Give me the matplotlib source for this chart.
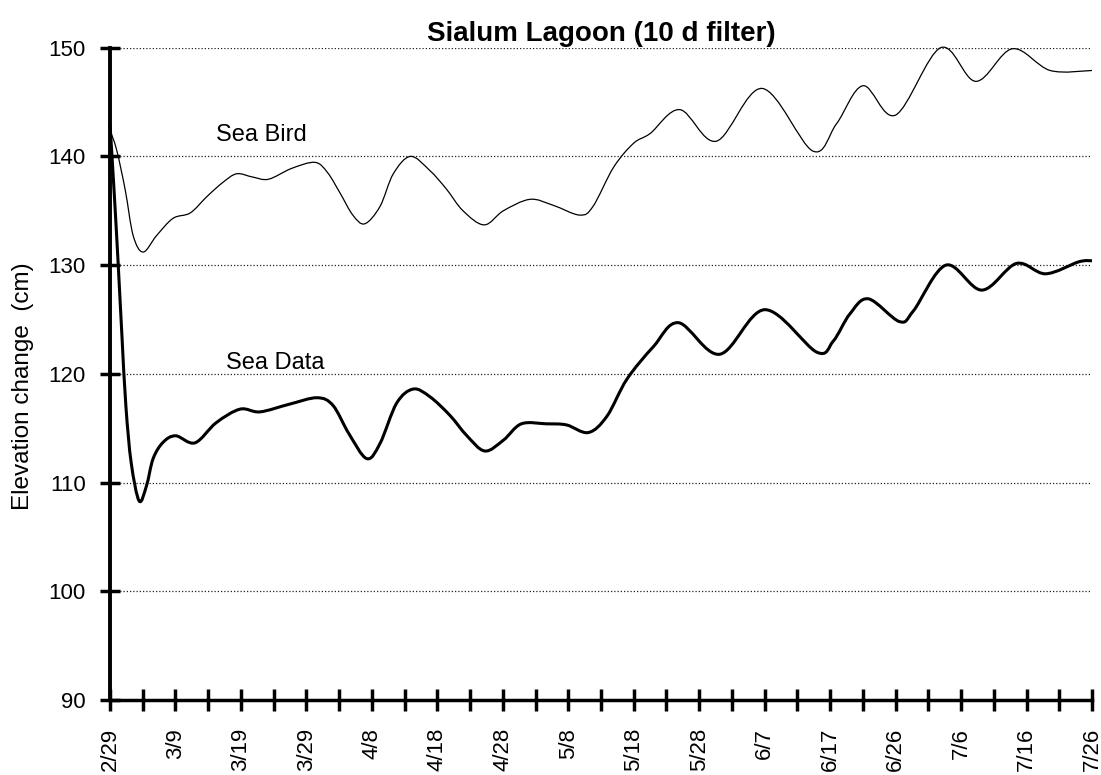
import numpy as np
import matplotlib
matplotlib.use('Agg')
import matplotlib.pyplot as plt
from matplotlib.path import Path
from matplotlib.patches import PathPatch

plt.rcParams['font.family'] = ['Liberation Sans', 'DejaVu Sans']

# x axis in days since 2/29 (148 days, 15 label intervals)
tick_labels = ['2/29', '3/9', '3/19', '3/29', '4/8', '4/18', '4/28', '5/8',
               '5/18', '5/28', '6/7', '6/17', '6/26', '7/6', '7/16', '7/26']
span_days = 148

# Sea Bird (thin line)
bird_day = [0, 1.0, 2.3, 3.5, 5.0, 7.0, 9.5, 12.1, 14.6, 17.0, 19.1, 21.5, 23.9,
            27.4, 30.9, 32.8, 34.7, 36.6, 38.4, 40.7, 42.7, 45.3, 48.2, 50.7,
            53.2, 56.4, 59.3, 63.3, 66.8, 70.8, 72.8, 75.9, 78.9, 81.4,
            85.9, 91.4, 98.3, 105.9, 109.5, 113.5,
            118.4, 125.2, 130.5, 136.0, 141.7, 148]
bird_cm = [142.4, 140.6, 136.9, 132.7, 131.2, 132.7, 134.3, 134.8, 136.3, 137.6,
           138.4, 138.1, 137.9, 138.9, 139.45, 138.5, 136.6, 134.6, 133.8, 135.4,
           138.4, 140.0, 138.7, 137.0, 135.0, 133.7, 135.0, 136.05, 135.5, 134.6,
           135.4, 139.0, 141.2, 142.1, 144.3, 141.4, 146.25,
           140.5, 143.0, 146.5, 143.8, 150.0, 146.9,
           149.9, 147.9, 147.9]

# Sea Data (thick line)
data_day = [0, 0.6, 1.2, 1.8, 2.4, 3.2, 4.4, 5.5, 6.5, 8.0, 9.9, 12.8, 16.0,
            19.6, 22.6, 27.0, 31.2, 33.6, 36.0, 38.7, 40.7, 43.2, 45.7, 48.2,
            51.2, 53.8, 56.5, 59.3, 62.0, 65.8, 68.8, 72.1, 74.9, 77.9, 81.9,
            85.7, 91.9, 98.7, 106.5, 109.0, 111.5, 114.3,
            119.0, 121.1, 126.0, 131.4, 136.6, 141.0, 146.0, 148]
data_cm = [143.0, 137.0, 130.5, 123.5, 117.0, 111.8, 108.3, 109.7, 112.2, 113.7,
           114.3, 113.65, 115.5, 116.75, 116.5, 117.2, 117.8, 117.1, 114.5, 112.2,
           113.6, 117.3, 118.6, 117.9, 116.2, 114.3, 112.9, 113.9, 115.4, 115.4,
           115.3, 114.6, 116.1, 119.5, 122.5, 124.7, 121.8, 125.9,
           122.0, 123.0, 125.5, 126.9, 124.8, 125.8, 130.0,
           127.7, 130.15, 129.2, 130.3, 130.4]


def smooth_path(xs, ys):
    # Excel-style smoothed line: Catmull-Rom segments as cubic Beziers
    pts = np.column_stack([xs, ys]).astype(float)
    verts = [pts[0]]
    codes = [Path.MOVETO]
    n = len(pts)
    for i in range(n - 1):
        p0 = pts[i - 1] if i > 0 else pts[i]
        p1 = pts[i]
        p2 = pts[i + 1]
        p3 = pts[i + 2] if i + 2 < n else pts[i + 1]
        verts += [p1 + (p2 - p0) / 6, p2 - (p3 - p1) / 6, p2]
        codes += [Path.CURVE4] * 3
    return Path(verts, codes)


fig = plt.figure(figsize=(11.01, 7.75), dpi=100)
ax = fig.add_axes([0.0999, 0.0968, 0.8919, 0.8417])

ax.add_patch(PathPatch(smooth_path(bird_day, bird_cm), fill=False, edgecolor='black',
                       lw=0.9, clip_on=False, zorder=3))
ax.add_patch(PathPatch(smooth_path(data_day, data_cm), fill=False, edgecolor='black',
                       lw=2.2, clip_on=False, zorder=3, joinstyle='round'))

ax.text(16.0, 141.4, 'Sea Bird', fontsize=17, ha='left', va='baseline')
ax.text(17.5, 120.4, 'Sea Data', fontsize=17, ha='left', va='baseline')

ax.set_xlim(0, span_days)
ax.set_ylim(90, 150)

major = np.linspace(0, span_days, len(tick_labels))
ax.set_xticks(major)
ax.set_xticklabels(tick_labels, rotation=90, fontsize=16)
ax.set_xticks((major[:-1] + major[1:]) / 2, minor=True)
ax.set_yticks([90, 100, 110, 120, 130, 140, 150])
ax.tick_params(axis='y', labelsize=16)

ax.tick_params(axis='x', which='both', direction='inout', length=16, width=2.5, pad=12)
ax.tick_params(axis='y', direction='inout', length=15, width=2.5, pad=10)

for v in [100, 110, 120, 130, 140, 150]:
    ax.axhline(v, color='#222222', lw=0.9, ls=(0, (1, 1.6)), zorder=1)

for s in ['top', 'right']:
    ax.spines[s].set_visible(False)
ax.spines['left'].set_linewidth(2.8)
ax.spines['bottom'].set_linewidth(2.5)

ax.set_title('Sialum Lagoon (10 d filter)', fontsize=20, fontweight='bold', pad=5)
ax.set_ylabel('Elevation change  (cm)', fontsize=17.5)
ax.yaxis.set_label_coords(-0.077, 0.481)

fig.savefig('out.png', dpi=100)
